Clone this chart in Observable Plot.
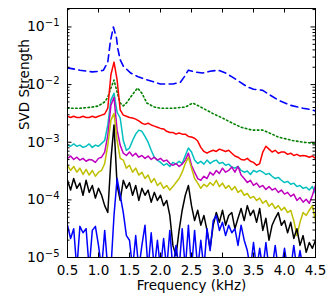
<!DOCTYPE html>
<html><head><meta charset="utf-8">
<script src="https://cdn.jsdelivr.net/npm/d3@7"></script>
<script src="https://cdn.jsdelivr.net/npm/@observablehq/plot@0.6"></script>
<style>body{margin:0;background:#fff} svg{font-family:"DejaVu Sans",sans-serif}</style>
</head><body><div id="chart"></div>
<script>
// ---- data (values stored as log10 of SVD strength) ----
const xTicks = [0.5,1.0,1.5,2.0,2.5,3.0,3.5,4.0,4.5];
const yMajor = [1e-5,1e-4,1e-3,1e-2,1e-1];
const xLabel = "Frequency (kHz)";
const yLabel = "SVD Strength";

const freq = [0.5,0.55,0.6,0.65,0.7,0.75,0.8,0.85,0.9,0.95,1.0,1.05,1.1,1.15,1.2,1.25,1.3,1.35,1.4,1.45,1.5,1.55,1.6,1.65,1.7,1.75,1.8,1.85,1.9,1.95,2.0,2.05,2.1,2.15,2.2,2.25,2.3,2.35,2.4,2.45,2.5,2.55,2.6,2.65,2.7,2.75,2.8,2.85,2.9,2.95,3.0,3.05,3.1,3.15,3.2,3.25,3.3,3.35,3.4,3.45,3.5,3.55,3.6,3.65,3.7,3.75,3.8,3.85,3.9,3.95,4.0,4.05,4.1,4.15,4.2,4.25,4.3,4.35,4.4,4.45,4.5];

const dashFreq = [0.5,0.7,0.9,1.0,1.08,1.15,1.19,1.24,1.29,1.31,1.35,1.4,1.52,1.65,1.79,2.0,2.2,2.32,2.38,2.45,2.55,2.68,2.8,2.93,3.05,3.16,3.4,3.5,3.65,3.75,3.9,4.1,4.3,4.45,4.5];
const dashLog = [-1.71,-1.75,-1.78,-1.77,-1.75,-1.61,-1.26,-1.00,-1.19,-1.37,-1.57,-1.68,-1.80,-1.87,-1.92,-1.99,-1.99,-1.96,-1.87,-1.75,-1.78,-1.80,-1.77,-1.75,-1.80,-1.87,-2.04,-2.08,-2.10,-2.17,-2.27,-2.36,-2.41,-2.44,-2.46];

const dotFreq = [0.5,0.7,0.9,1.0,1.1,1.15,1.2,1.25,1.3,1.35,1.4,1.45,1.55,1.63,1.7,1.78,1.9,2.0,2.2,2.4,2.52,2.65,2.84,3.0,3.16,3.3,3.48,3.65,3.8,3.9,4.13,4.3,4.5];
const dotLog = [-2.41,-2.41,-2.39,-2.37,-2.30,-2.22,-2.06,-1.92,-2.13,-2.32,-2.37,-2.32,-2.17,-2.06,-2.15,-2.32,-2.39,-2.41,-2.41,-2.39,-2.32,-2.39,-2.50,-2.58,-2.67,-2.74,-2.79,-2.79,-2.86,-2.91,-2.97,-3.00,-3.02];

const redLog = [-2.55,-2.57,-2.55,-2.57,-2.57,-2.55,-2.57,-2.57,-2.55,-2.57,
-2.55,-2.53,-2.51,-2.41,-1.83,-1.61,-1.92,-2.44,-2.53,-2.55,
-2.57,-2.58,-2.60,-2.63,-2.67,-2.69,-2.67,-2.70,-2.72,-2.74,
-2.76,-2.77,-2.81,-2.83,-2.83,-2.86,-2.84,-2.86,-2.86,-2.90,
-2.91,-2.93,-2.98,-3.09,-3.16,-3.19,-3.16,-3.14,-3.16,-3.12,
-3.14,-3.16,-3.14,-3.19,-3.24,-3.26,-3.30,-3.31,-3.28,-3.33,
-3.35,-3.40,-3.37,-3.17,-3.07,-3.12,-3.17,-3.14,-3.19,-3.17,
-3.17,-3.21,-3.19,-3.23,-3.21,-3.24,-3.23,-3.24,-3.26,-3.24,
-3.28];

const cyanLog = [-3.05,-3.07,-3.03,-3.07,-3.05,-3.09,-3.07,-3.03,-3.09,-3.05,
-3.07,-3.02,-2.97,-2.70,-2.27,-2.15,-2.48,-2.58,-2.97,-3.14,
-3.10,-2.97,-2.86,-2.79,-2.81,-2.90,-3.00,-3.14,-3.26,-3.31,
-3.35,-3.40,-3.37,-3.42,-3.35,-3.38,-3.33,-3.37,-3.23,-3.10,
-3.17,-3.31,-3.37,-3.33,-3.38,-3.31,-3.37,-3.33,-3.31,-3.37,
-3.35,-3.40,-3.38,-3.43,-3.45,-3.42,-3.49,-3.52,-3.50,-3.56,
-3.49,-3.52,-3.49,-3.52,-3.56,-3.54,-3.59,-3.63,-3.61,-3.66,
-3.70,-3.68,-3.73,-3.71,-3.77,-3.75,-3.80,-3.78,-3.83,-3.77,
-3.89];

const magentaLog = [-3.28,-3.24,-3.30,-3.26,-3.31,-3.28,-3.33,-3.30,-3.31,-3.35,
-3.28,-3.26,-3.17,-2.88,-2.36,-2.22,-2.79,-3.05,-3.19,-3.23,
-3.17,-3.24,-3.19,-3.26,-3.23,-3.28,-3.24,-3.30,-3.26,-3.31,
-3.28,-3.33,-3.31,-3.37,-3.40,-3.37,-3.42,-3.38,-3.31,-3.19,
-3.40,-3.52,-3.63,-3.66,-3.59,-3.63,-3.52,-3.57,-3.49,-3.54,
-3.45,-3.52,-3.49,-3.43,-3.52,-3.42,-3.57,-3.63,-3.70,-3.66,
-3.75,-3.71,-3.78,-3.75,-3.82,-3.77,-3.83,-3.80,-3.87,-3.83,
-3.90,-3.87,-3.94,-3.90,-4.01,-3.96,-4.04,-3.99,-4.06,-3.92,
-3.75];

const yellowLog = [-3.40,-3.49,-3.42,-3.52,-3.45,-3.56,-3.47,-3.57,-3.49,-3.59,
-3.52,-3.49,-3.37,-3.05,-2.62,-2.50,-2.97,-3.28,-3.31,-3.45,
-3.40,-3.52,-3.45,-3.57,-3.52,-3.63,-3.57,-3.70,-3.63,-3.75,
-3.70,-3.80,-3.75,-3.83,-3.77,-3.70,-3.63,-3.52,-3.37,-3.26,
-3.45,-3.63,-3.71,-3.80,-3.73,-3.77,-3.70,-3.75,-3.66,-3.77,
-3.71,-3.80,-3.75,-3.83,-3.77,-3.87,-3.83,-3.92,-3.89,-3.97,
-3.94,-4.01,-3.97,-4.06,-4.01,-4.11,-4.06,-4.15,-4.10,-4.18,
-4.13,-4.22,-4.18,-4.36,-4.62,-4.39,-4.22,-4.27,-4.18,-4.10,
-4.36];

const blackLog = [-3.66,-3.83,-3.63,-3.80,-3.71,-3.92,-3.66,-3.87,-3.75,-3.97,
-3.80,-3.92,-4.10,-4.22,-3.31,-2.70,-3.75,-4.01,-3.66,-3.80,
-3.70,-3.92,-3.75,-4.01,-3.80,-3.92,-3.83,-4.04,-3.87,-4.01,
-3.92,-4.10,-4.01,-4.27,-4.79,-4.97,-4.53,-4.18,-3.92,-3.75,
-4.10,-4.36,-4.18,-4.44,-4.27,-4.53,-4.84,-4.44,-4.22,-4.39,
-4.18,-4.44,-4.27,-4.22,-4.50,-4.32,-4.15,-4.36,-4.10,-4.27,
-4.18,-4.39,-4.15,-4.53,-4.32,-4.70,-4.44,-4.32,-4.22,-4.44,
-4.36,-4.57,-4.39,-4.67,-4.50,-4.79,-4.62,-4.91,-4.74,-4.84,
-4.70];

const blueLog = [-4.44,-4.67,-4.50,-5.2,-4.46,-4.57,-4.50,-5.2,-4.53,-4.46,
-4.79,-5.2,-4.53,-5.2,-5.2,-4.27,-3.63,-3.92,-4.22,-4.62,
-4.70,-5.2,-4.62,-5.2,-4.79,-4.44,-5.2,-4.57,-5.2,-4.70,
-5.2,-4.67,-5.2,-4.53,-5.2,-4.79,-5.2,-4.50,-5.2,-4.44,
-5.2,-4.53,-5.2,-4.70,-5.2,-4.50,-4.88,-4.36,-4.27,-4.53,
-4.39,-4.62,-4.44,-4.57,-4.50,-4.79,-4.44,-4.70,-4.88,-5.2,
-4.74,-5.2,-4.84,-5.2,-4.74,-5.2,-5.2,-4.79,-5.2,-5.2,
-4.84,-5.2,-5.2,-4.79,-5.2,-4.88,-5.2,-5.2,-5.2,-5.2,
-5.2];

// ---- build rows ----
const rows = (f, logs) => f.map((x, i) => ({freq: x, value: 10 ** logs[i]}));
const yMinor = [];
for (const d of [1e-5,1e-4,1e-3,1e-2,1e-1]) for (let k = 2; k <= 9; k++) { const v = d * k; if (v < 0.209) yMinor.push(v); }

const W = 335, H = 307, mL = 67, mR = 20, mT = 8, mB = 50;
const pw = W - mL - mR, ph = H - mT - mB;
const solid = (logs, color) => Plot.line(rows(freq, logs), {x: "freq", y: "value", stroke: color, strokeWidth: 1.5, clip: true});

const chart = Plot.plot({
  width: W, height: H, marginLeft: mL, marginRight: mR, marginTop: mT, marginBottom: mB,
  style: {fontFamily: "DejaVu Sans", fontSize: "12px", background: "white", color: "black"},
  x: {domain: [0.5, 4.5]},
  y: {type: "log", domain: [1e-5, 0.209]},
  marks: [
    Plot.line(rows(dashFreq, dashLog), {x: "freq", y: "value", stroke: "#0000ff", strokeWidth: 1.6, strokeDasharray: "7,4.5", clip: true}),
    Plot.line(rows(dotFreq, dotLog), {x: "freq", y: "value", stroke: "#008000", strokeWidth: 1.6, strokeDasharray: "1.5,2.6", clip: true}),
    solid(redLog, "#ff0000"),
    solid(cyanLog, "#00bfbf"),
    solid(magentaLog, "#bf00bf"),
    solid(yellowLog, "#bfbf00"),
    solid(blackLog, "#000000"),
    solid(blueLog, "#0000ff"),
    Plot.frame({stroke: "black", strokeWidth: 1}),
    Plot.ruleX(xTicks, {x: d => d, insetTop: ph - 4.5, stroke: "black"}),
    Plot.ruleX(xTicks, {x: d => d, insetBottom: ph - 4.5, stroke: "black"}),
    Plot.ruleY(yMajor, {y: d => d, insetRight: pw - 4.5, stroke: "black"}),
    Plot.ruleY(yMajor, {y: d => d, insetLeft: pw - 4.5, stroke: "black"}),
    Plot.ruleY(yMinor, {y: d => d, insetRight: pw - 2.5, stroke: "black"}),
    Plot.ruleY(yMinor, {y: d => d, insetLeft: pw - 2.5, stroke: "black"}),
    Plot.axisX({ticks: xTicks, tickSize: 0, tickPadding: 8, tickFormat: d => d.toFixed(1), label: null, fontSize: 13.5}),
    Plot.axisY({ticks: yMajor, tickSize: 0, tickPadding: 8, tickFormat: d => "10^" + Math.round(Math.log10(d)), label: null, fontSize: 14}),
    Plot.text([xLabel], {frameAnchor: "bottom", dy: 32.5, fontSize: 13.5, text: d => d}),
    Plot.text([yLabel], {frameAnchor: "left", dx: -43, dy: -3, rotate: -90, fontSize: 13.5, text: d => d})
  ]
});

// superscript exponents on y tick labels
chart.querySelectorAll('g[aria-label="y-axis tick label"] text').forEach(t => {
  const s = t.textContent;
  if (!s.includes("^")) return;
  const [b, e] = s.split("^");
  t.textContent = "";
  const ns = "http://www.w3.org/2000/svg";
  const t1 = document.createElementNS(ns, "tspan"); t1.textContent = b;
  const t2 = document.createElementNS(ns, "tspan"); t2.textContent = e.replace("-", "\u2212");
  t2.setAttribute("dy", "-0.5em"); t2.setAttribute("font-size", "10");
  t.appendChild(t1); t.appendChild(t2);
});
document.getElementById("chart").appendChild(chart);
</script>
</body></html>
